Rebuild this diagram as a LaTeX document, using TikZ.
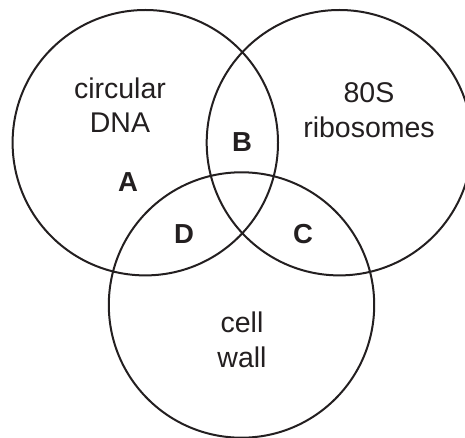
\documentclass[tikz,border=0pt]{standalone}
\usepackage{fontspec}
\setmainfont{Liberation Sans}
\usepackage{xcolor}
\definecolor{ink}{HTML}{231F20}
\tikzset{
  ring/.style={draw=ink, line width=2pt},
  word/.style={text=ink, align=center, font=\fontsize{28.5}{34.5}\selectfont},
  region/.style={text=ink, font=\fontsize{27.5}{32}\selectfont\bfseries}
}

\begin{document}
\begin{tikzpicture}[x=1pt,y=1pt]

        \useasboundingbox (0,0) rectangle (465,437);

        % three circles
            \draw[ring] (145.3,294.3) circle (132.7);
            \draw[ring] (339.4,294.3) circle (132.7);
            \draw[ring] (241.5,132.0) circle (132.7);

        % circle labels
            \node[word] (dna) at (120,332) {circular\\DNA};
            \node[word] (ribo) at (369,327) {80S\\ribosomes};
            \node[word] (wall) at (242,97) {cell\\wall};

        % regions
            \node[region] (A) at (128,255) {A};
            \node[region] (B) at (242,295) {B};
            \node[region] (C) at (303,202.5) {C};
            \node[region] (D) at (184,202.5) {D};

        \end{tikzpicture}
\end{document}
